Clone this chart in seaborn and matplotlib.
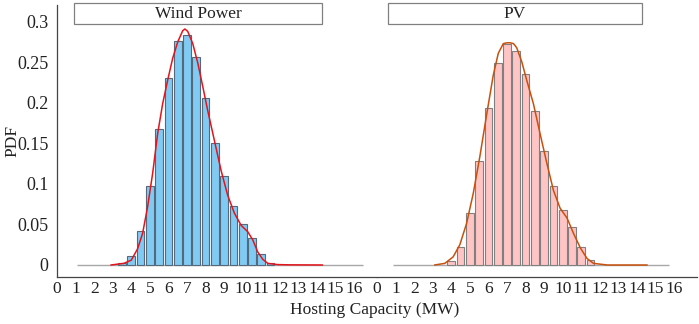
import matplotlib
matplotlib.use('Agg')
import matplotlib.pyplot as plt
from matplotlib.patches import Rectangle
import seaborn as sns
import numpy as np

# histogram bins (MW, bin centres) and PDF heights
wind_centers = [3.5, 4.0, 4.5, 5.0, 5.5, 6.0, 6.5, 7.0, 7.5, 8.0, 8.5, 9.0, 9.5, 10.0, 10.5, 11.0, 11.5]
wind_pdf = [0.002, 0.011, 0.042, 0.097, 0.168, 0.231, 0.276, 0.284, 0.256, 0.206, 0.151, 0.110, 0.073, 0.051, 0.033, 0.013, 0.003]

pv_centers = [4.0, 4.5, 5.0, 5.5, 6.0, 6.5, 7.0, 7.5, 8.0, 8.5, 9.0, 9.5, 10.0, 10.5, 11.0, 11.5]
pv_pdf = [0.005, 0.022, 0.064, 0.128, 0.193, 0.249, 0.273, 0.264, 0.236, 0.190, 0.141, 0.097, 0.068, 0.047, 0.022, 0.006]

# fitted density curves
wind_curve_x = [2.9, 3.6, 4.0, 4.34, 4.61, 4.88, 5.15, 5.42, 5.69, 5.96, 6.23, 6.5, 6.77, 6.89,
                7.04, 7.31, 7.58, 7.85, 8.11, 8.47, 8.83, 9.19, 9.55, 9.91, 10.27, 10.54, 10.81,
                11.08, 11.35, 11.88, 12.5, 14.3]
wind_curve_y = [0.0, 0.002, 0.006, 0.020, 0.039, 0.072, 0.113, 0.162, 0.199, 0.228, 0.255, 0.275, 0.289, 0.291,
                0.288, 0.273, 0.249, 0.220, 0.191, 0.154, 0.117, 0.086, 0.064, 0.049, 0.041, 0.031, 0.016,
                0.007, 0.002, 0.0005, 0.0002, 0.0]

pv_curve_x = [3.1, 3.65, 4.1, 4.46, 4.82, 5.18, 5.54, 5.9, 6.26, 6.53, 6.8, 7.0, 7.16, 7.35, 7.52, 7.79,
              8.06, 8.42, 8.78, 9.15, 9.5, 9.86, 10.23, 10.58, 10.95, 11.31, 11.66, 12.4, 14.55]
pv_curve_y = [0.0, 0.002, 0.010, 0.025, 0.051, 0.088, 0.134, 0.185, 0.234, 0.261, 0.273, 0.274, 0.274, 0.273, 0.268, 0.251,
              0.228, 0.199, 0.162, 0.125, 0.092, 0.070, 0.058, 0.039, 0.021, 0.008, 0.002, 0.0, 0.0]

titles = ['Wind Power', 'PV']
x_ticks = list(range(0, 17))
y_ticks = [0, 0.05, 0.1, 0.15, 0.2, 0.25, 0.3]
y_tick_labels = ['0', '0.05', '0.1', '0.15', '0.2', '0.25', '0.3']

sns.set_style('white')
plt.rcParams['font.family'] = ['Liberation Serif', 'DejaVu Serif']

fig = plt.figure(figsize=(6.99, 3.24), dpi=100)
W, H = 699, 324
ax_l = fig.add_axes([57 / W, 47 / H, 320 / W, 272 / H])
ax_r = fig.add_axes([377 / W, 47 / H, 320 / W, 272 / H])

panels = [
    (ax_l, wind_centers, wind_pdf, wind_curve_x, wind_curve_y, '#80cbf4', '#56697a', '#e3141c', (1.1, 16.5), 0.053),
    (ax_r, pv_centers, pv_pdf, pv_curve_x, pv_curve_y, '#ffc4c4', '#808080', '#c8500c', (0.85, 15.7), 0.033),
]

for ax, cx, cy, kx, ky, fc, ec, lc, base, box_x0 in panels:
    ax.hlines(0, base[0], base[1], color='#a8a8a8', lw=1.0, zorder=1)
    sns.histplot(x=cx, weights=cy, binwidth=0.5, binrange=(cx[0] - 0.25, cx[-1] + 0.25),
                 shrink=0.84, color=fc, alpha=1, edgecolor=ec, linewidth=0.8, ax=ax, zorder=2)
    sns.lineplot(x=kx, y=ky, color=lc, lw=1.1, ax=ax, zorder=3, sort=False)
    ax.set_xlim(0, 17.23)
    ax.set_ylim(-0.0148, 0.3206)
    ax.set_xticks(x_ticks)
    ax.set_xticklabels([str(t) for t in x_ticks])
    ax.tick_params(axis='x', direction='in', length=3, width=0.8, color='#444444',
                   labelsize=12.5, labelcolor='#222222', pad=3)
    ax.set_xlabel('')
    ax.set_ylabel('')
    for s in ['top', 'right', 'left']:
        ax.spines[s].set_visible(False)
    ax.spines['bottom'].set_color('#444444')
    ax.spines['bottom'].set_linewidth(0.9)
    rect = Rectangle((box_x0, 0.930), 0.828 - box_x0, 0.077, transform=ax.transAxes,
                     facecolor='white', edgecolor='#808080', lw=0.9, clip_on=False, zorder=5)
    ax.add_patch(rect)

ax_l.text((0.053 + 0.828) / 2, 0.968, titles[0], transform=ax_l.transAxes, ha='center', va='center',
          fontsize=12.5, color='#222222', zorder=6)
ax_r.text((0.033 + 0.828) / 2, 0.968, titles[1], transform=ax_r.transAxes, ha='center', va='center',
          fontsize=12.5, color='#222222', zorder=6)

ax_l.spines['left'].set_visible(True)
ax_l.spines['left'].set_color('#444444')
ax_l.spines['left'].set_linewidth(0.9)
ax_l.set_yticks(y_ticks)
ax_l.set_yticklabels(y_tick_labels)
ax_l.tick_params(axis='y', length=0, labelsize=13, labelcolor='#222222', pad=6)
ax_r.set_yticks([])

fig.text(12 / W, 1 - 141 / H, 'PDF', rotation=90, ha='center', va='center', fontsize=12.5, color='#222222')
fig.text(375 / W, 1 - 310 / H, 'Hosting Capacity (MW)', ha='center', va='center', fontsize=12.5, color='#222222')

fig.savefig('out.png', dpi=100)
